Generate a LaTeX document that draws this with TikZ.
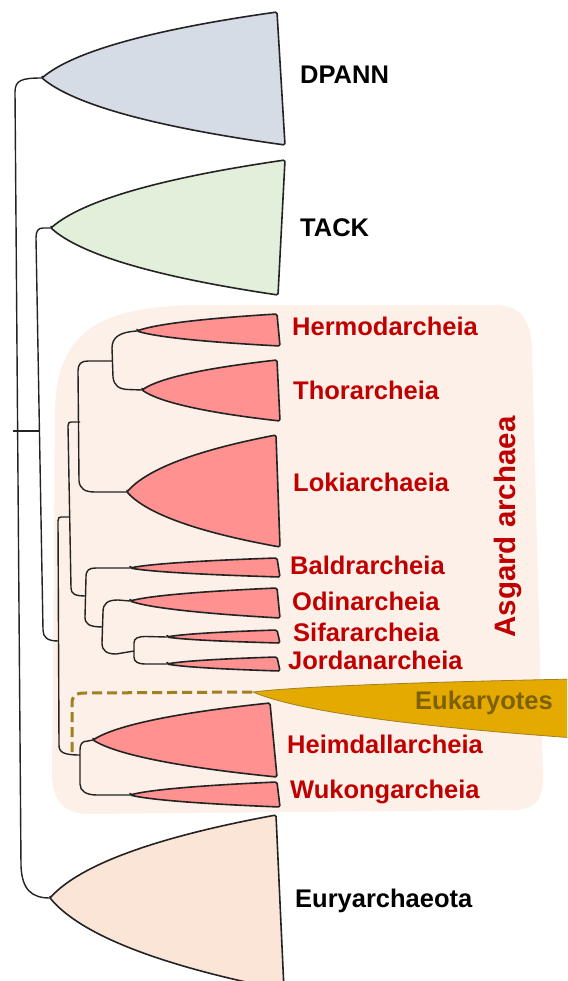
\documentclass[tikz,border=0pt]{standalone}
\usepackage{fontspec}
\setmainfont{Liberation Sans}
\usetikzlibrary{calc}
\definecolor{dpc}{RGB}{214,220,229}
\definecolor{tac}{RGB}{226,239,218}
\definecolor{pnk}{RGB}{255,145,145}
\definecolor{eur}{RGB}{251,229,214}
\definecolor{bgc}{RGB}{252,240,232}
\definecolor{asr}{RGB}{192,0,0}
\definecolor{ekf}{RGB}{228,170,0}
\definecolor{ekt}{RGB}{127,96,0}
\definecolor{ekd}{RGB}{160,128,32}
\definecolor{ink}{RGB}{35,35,35}
\newcommand\clade[4]{%
  \filldraw[#4] let \p1=(#1),\p2=(#2),\p3=(#3) in
   (\p1) .. controls ({\x1+0.133*(\x2-\x1)},{\y1+0.4*(\y2-\y1)}) and ({\x1+0.467*(\x2-\x1)},{\y1+0.733*(\y2-\y1)}) .. (\p2)
   -- (\p3) .. controls ({\x1+0.467*(\x3-\x1)},{\y1+0.733*(\y3-\y1)}) and ({\x1+0.133*(\x3-\x1)},{\y1+0.4*(\y3-\y1)}) .. (\p1) -- cycle;}
\begin{document}
\begin{tikzpicture}[x=1pt,y=-1pt,
  tree/.style={draw=ink,line width=1.4pt},
  cl/.style={draw=ink,line width=1.6pt,line join=round,rounded corners=1.5pt},
  ekline/.style={draw=ekd,line width=3pt,dash pattern=on 10pt off 5pt},
  lab/.style={anchor=base west,inner sep=0pt,font=\fontsize{25.5}{30}\selectfont\bfseries},
  blk/.style={lab,text=black},
  red/.style={lab,text=asr}]
\useasboundingbox (0,0) rectangle (567,981);
\clip (0,0) rectangle (567,981);
% Asgard background
\fill[bgc] (55,420) .. controls (53,330) and (100,306) .. (200,305) -- (495,305)
  .. controls (522,305) and (531,322) .. (532,350) -- (543,775)
  .. controls (544,800) and (535,809) .. (515,810) -- (90,814)
  .. controls (62,814) and (53,800) .. (52,775) -- cycle;
% clade coordinates
\coordinate (aDP) at (42,78);   \coordinate (tDP) at (277,12);  \coordinate (bDP) at (285,145);
\coordinate (aTA) at (51,228);  \coordinate (tTA) at (285,160); \coordinate (bTA) at (278,295);
\coordinate (aHe) at (137,331); \coordinate (tHe) at (277,314); \coordinate (bHe) at (280,346);
\coordinate (aTh) at (142,390); \coordinate (tTh) at (277,360); \coordinate (bTh) at (280,421);
\coordinate (aLo) at (127,492); \coordinate (tLo) at (276,435); \coordinate (bLo) at (280,547);
\coordinate (aBa) at (130,568); \coordinate (tBa) at (277,558); \coordinate (bBa) at (280,577);
\coordinate (aOd) at (130,601); \coordinate (tOd) at (277,588); \coordinate (bOd) at (280,618);
\coordinate (aSi) at (167,637); \coordinate (tSi) at (277,630); \coordinate (bSi) at (280,643);
\coordinate (aJo) at (167,664); \coordinate (tJo) at (277,657); \coordinate (bJo) at (280,671);
\coordinate (aHd) at (93,740);  \coordinate (tHd) at (270,703); \coordinate (bHd) at (277,777);
\coordinate (aWu) at (130,795); \coordinate (tWu) at (277,782); \coordinate (bWu) at (280,807);
\coordinate (aEy) at (50,898);  \coordinate (tEy) at (276,815); \coordinate (bEy) at (284,990);
\coordinate (aEk) at (253,692); \coordinate (tEk) at (575,679); \coordinate (bEk) at (575,738);
% clades
\clade{aDP}{tDP}{bDP}{cl,fill=dpc}
\clade{aTA}{tTA}{bTA}{cl,fill=tac}
\clade{aHe}{tHe}{bHe}{cl,fill=pnk}
\clade{aTh}{tTh}{bTh}{cl,fill=pnk}
\clade{aLo}{tLo}{bLo}{cl,fill=pnk}
\clade{aBa}{tBa}{bBa}{cl,fill=pnk}
\clade{aOd}{tOd}{bOd}{cl,fill=pnk}
\clade{aSi}{tSi}{bSi}{cl,fill=pnk}
\clade{aJo}{tJo}{bJo}{cl,fill=pnk}
\clade{aHd}{tHd}{bHd}{cl,fill=pnk}
\clade{aWu}{tWu}{bWu}{cl,fill=pnk}
\clade{aEy}{tEy}{bEy}{cl,fill=eur}
\clade{aEk}{tEk}{bEk}{draw=ekd,line width=0.8pt,fill=ekf}
% internal node coordinates
\coordinate (k1) at (13,431);  \coordinate (k2) at (40,431);
\coordinate (nAs) at (58,641); \coordinate (nA1) at (70,517);
\coordinate (nHW) at (80,755); \coordinate (n5) at (80,422);
\coordinate (nBa) at (86,596); \coordinate (nHT) at (112,361);
\coordinate (nOS) at (103,627); \coordinate (nSJ) at (134,651);
\coordinate (eS) at (72,752);
% tree
\draw[tree] (aDP) .. controls (22,78) and (15,80) .. (15,92) -- (21,866) .. controls (22,890) and (32,898) .. (aEy);
\draw[tree] (k1) -- (k2);
\draw[tree] (aTA) -- (43,228) .. controls (38,228) and (36,231) .. (36,238) -- (43,630) .. controls (43,637) and (47,641) .. (nAs);
\draw[tree] (nA1) -- (61,517) .. controls (59,517) and (58,518) .. (58,521) -- (59,745) .. controls (59,752) and (63,755) .. (nHW);
\draw[tree] (n5) -- (71,422) .. controls (69,422) and (68,423) .. (68,426) -- (71,588) .. controls (71,594) and (75,596) .. (nBa);
\draw[tree] (nHT) -- (88,361) .. controls (81,361) and (78,364) .. (78,371) -- (79,481) .. controls (80,489) and (85,492) .. (95,492) -- (aLo);
\draw[tree] (aHe) .. controls (120,332) and (112,337) .. (112,348) -- (113,377) .. controls (114,386) and (119,389) .. (128,389.5) -- (aTh);
\draw[tree] (aBa) -- (96,568) .. controls (89,568) and (86,570) .. (86,577) -- (85,617) .. controls (85,624) and (89,627) .. (nOS);
\draw[tree] (aOd) -- (118,600) .. controls (108,600) and (103,603) .. (103,612) -- (102,643) .. controls (102,651) and (107,654) .. (116,654) -- (nSJ);
\draw[tree] (aSi) -- (146,636.5) .. controls (138,636.5) and (134,638) .. (134,643) -- (134,657) .. controls (134,662) and (138,664) .. (146,664) -- (aJo);
\draw[tree] (aHd) -- (88,741) .. controls (82,741) and (80,744) .. (80,750) -- (80,784) .. controls (80,791) and (86,795) .. (97,795) -- (aWu);
\draw[ekline] (eS) -- (72,704) .. controls (72,696) and (75,693) .. (85,693) -- (aEk);
% labels
\node[blk] (lDP) at (300,84) {DPANN};
\node[blk] (lTA) at (300,237) {TACK};
\node[red] (lHe) at (292,335) {Hermodarcheia};
\node[red] (lTh) at (293,399) {Thorarcheia};
\node[red] (lLo) at (293,491) {Lokiarchaeia};
\node[red] (lBa) at (290,574) {Baldrarcheia};
\node[red] (lOd) at (292,610) {Odinarcheia};
\node[red] (lSi) at (293,641) {Sifararcheia};
\node[red] (lJo) at (288,669) {Jordanarcheia};
\node[lab,text=ekt] (lEk) at (415,709) {Eukaryotes};
\node[red] (lHd) at (287,753) {Heimdallarcheia};
\node[red] (lWu) at (290,798) {Wukongarcheia};
\node[blk] (lEy) at (295,907) {Euryarchaeota};
\node[rotate=90,anchor=base,inner sep=0pt,text=asr,font=\fontsize{29.5}{34}\selectfont\bfseries] (lAs) at (515,527) {Asgard archaea};
\end{tikzpicture}
\end{document}
